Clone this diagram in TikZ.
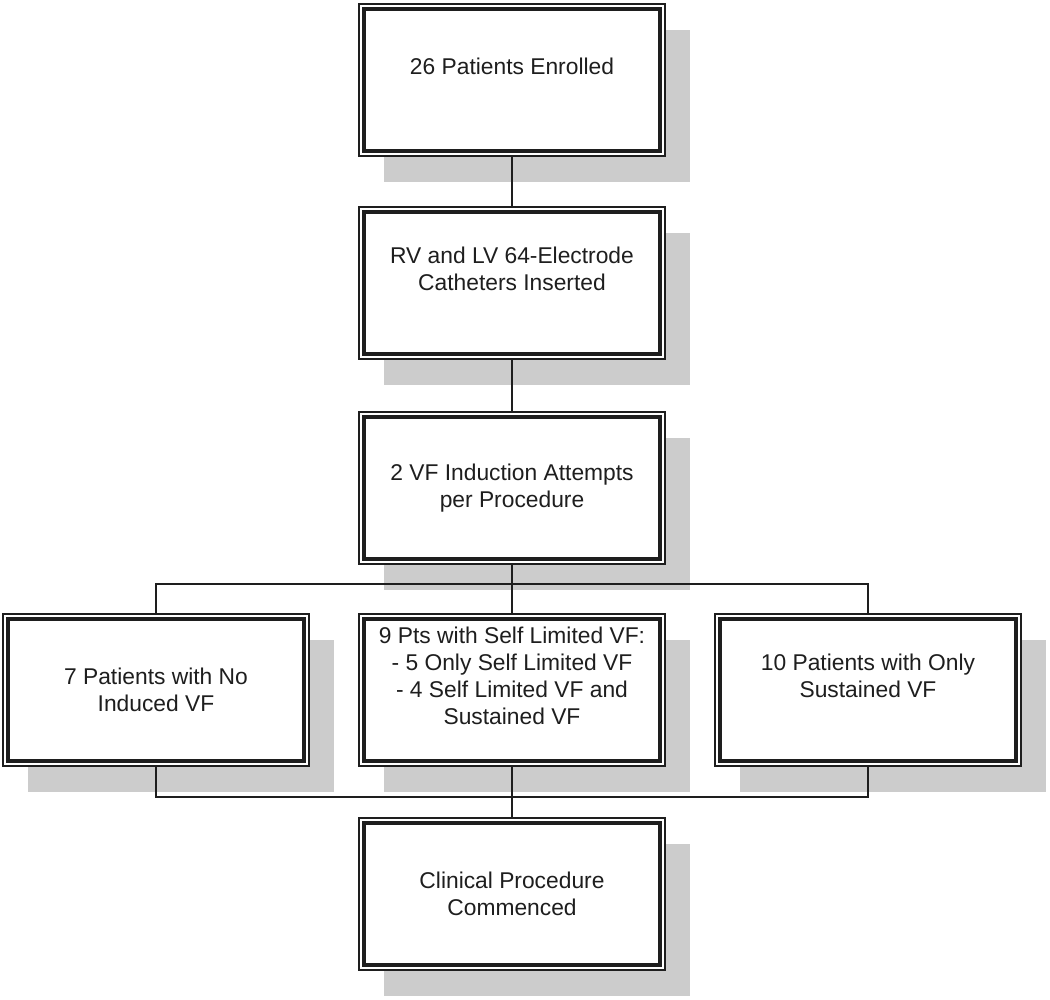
\documentclass[tikz,border=0pt]{standalone}
\usepackage{fontspec}
\setmainfont{Liberation Sans}
\usetikzlibrary{shadows}
\definecolor{cshadow}{HTML}{CCCCCC}
\definecolor{cink}{HTML}{1E1E1E}
\tikzset{
  every picture/.style={line width=2pt},
  box/.style={draw=cink, fill=white, line width=2pt, outer sep=0pt, inner sep=0pt,
    minimum width=306pt, minimum height=152pt, align=center, text=cink,
    font=\fontsize{22.8}{27}\selectfont,
    drop shadow={shadow xshift=25pt, shadow yshift=-26pt, fill=cshadow, opacity=1}},
  lifted/.style={text depth=28pt},
  innerframe/.style={draw=cink, line width=3.5pt},
  link/.style={draw=cink, line width=2.4pt},
}

\begin{document}
\begin{tikzpicture}[x=1pt, y=-1pt]
  \useasboundingbox (0,0) rectangle (1050,1000);
  % main column
  \node[box, lifted] (enrol) at (512,80) {26 Patients Enrolled};
  \node[box, lifted] (cath) at (512,283) {RV and LV 64-Electrode\\Catheters Inserted};
  \node[box] (induce) at (512,488) {2 VF Induction Attempts\\per Procedure};
  % outcomes of the induction attempts
  \node[box] (novf) at (156,690) {7 Patients with No\\Induced VF};
  \node[box, lifted] (selflim) at (512,690) {9 Pts with Self Limited VF:\\- 5 Only Self Limited VF\\- 4 Self Limited VF and\\Sustained VF};
  \node[box, lifted] (sustvf) at (868,690) {10 Patients with Only\\Sustained VF};
  \node[box] (clinic) at (512,894) {Clinical Procedure\\Commenced};
  % thick inner frame of every box
  \foreach \n in {enrol,cath,induce,novf,selflim,sustvf,clinic}
    \draw[innerframe] ([shift={(5pt,-5pt)}]\n.north west) rectangle ([shift={(-5pt,5pt)}]\n.south east);
  % connectors
  \coordinate (split) at (512,584);
  \coordinate (merge) at (512,797);
  \draw[link] (enrol.south) -- (cath.north);
  \draw[link] (cath.south) -- (induce.north);
  \draw[link] (induce.south) -- (split) -- (selflim.north);
  \draw[link] (novf.north) |- (split) -| (sustvf.north);
  \draw[link] (novf.south) |- (merge) -| (sustvf.south);
  \draw[link] (selflim.south) -- (merge) -- (clinic.north);
\end{tikzpicture}
\end{document}
